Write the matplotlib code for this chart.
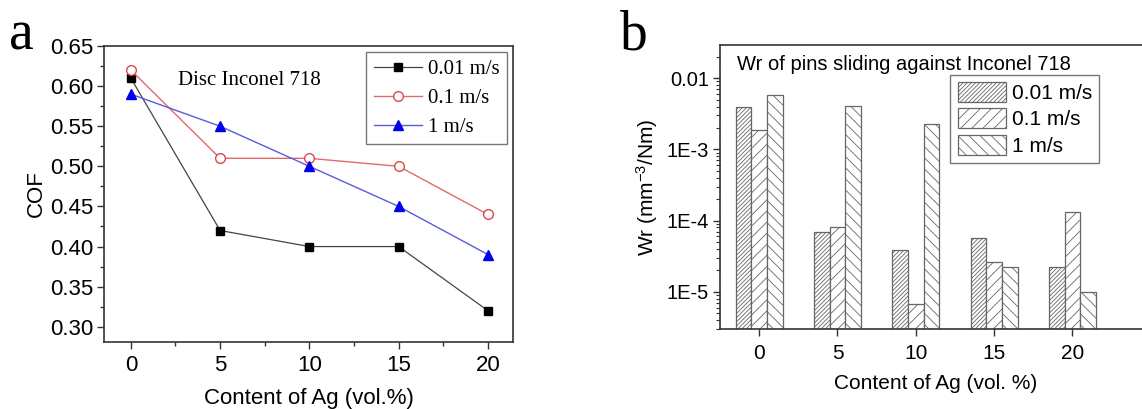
import matplotlib
matplotlib.use("Agg")
import matplotlib.pyplot as plt
import numpy as np
from matplotlib.ticker import MultipleLocator, FixedLocator, LogLocator, NullFormatter

plt.rcParams['font.family'] = ['Liberation Sans', 'DejaVu Sans']
plt.rcParams['mathtext.fontset'] = 'custom'
plt.rcParams['mathtext.rm'] = 'Liberation Sans'
plt.rcParams['mathtext.it'] = 'Liberation Sans'
plt.rcParams['hatch.color'] = '#555555'
plt.rcParams['hatch.linewidth'] = 0.6

# ---- data ----
ag = [0, 5, 10, 15, 20]
speeds = ["0.01 m/s", "0.1 m/s", "1 m/s"]

cof_001 = [0.61, 0.42, 0.40, 0.40, 0.32]
cof_01 = [0.62, 0.51, 0.51, 0.50, 0.44]
cof_1 = [0.59, 0.55, 0.50, 0.45, 0.39]

wr_001 = [3.9e-3, 6.9e-5, 3.9e-5, 5.7e-5, 2.2e-5]
wr_01 = [1.87e-3, 8.0e-5, 6.8e-6, 2.6e-5, 1.3e-4]
wr_1 = [5.8e-3, 4.1e-3, 2.3e-3, 2.25e-5, 1.0e-5]

fig = plt.figure(figsize=(11.42, 4.09), dpi=100)

# ---- panel a ----
ax = fig.add_axes([0.0911, 0.1638, 0.3581, 0.7237])
ax.plot(ag, cof_001, '-', color='#444444', lw=0.9, marker='s', ms=6,
        mfc='black', mec='black', label=speeds[0])
ax.plot(ag, cof_01, '-', color='#e06a6a', lw=1.0, marker='o', ms=7,
        mfc='white', mec='#d94a4a', label=speeds[1])
ax.plot(ag, cof_1, '-', color='#5a5ae0', lw=1.0, marker='^', ms=7,
        mfc='#0000ee', mec='#0000ee', label=speeds[2])
ax.set_xlim(-1.5, 21.4)
ax.set_ylim(0.281, 0.65)
ax.xaxis.set_major_locator(FixedLocator(ag))
ax.xaxis.set_minor_locator(MultipleLocator(2.5))
ax.yaxis.set_major_locator(MultipleLocator(0.05))
ax.yaxis.set_minor_locator(MultipleLocator(0.025))
ax.set_yticklabels([f"{v:.2f}" for v in ax.get_yticks()])
ax.tick_params(which='major', direction='out', length=5, width=1, labelsize=16, color='#333333')
ax.tick_params(which='minor', direction='out', length=3, width=1, color='#333333')
ax.tick_params(axis='x', pad=4)
ax.tick_params(axis='y', pad=3)
for s in ax.spines.values():
    s.set_color('#333333')
    s.set_linewidth(1.2)
ax.set_xlabel("Content of Ag (vol.%)", fontsize=16, labelpad=9)
ax.set_ylabel("COF", fontsize=16, labelpad=2)
ax.text(0.18, 0.885, "Disc Inconel 718", transform=ax.transAxes,
        family=['Liberation Serif'], fontsize=15, ha='left', va='center')
leg = ax.legend(loc='upper right', prop={'family': 'Liberation Serif', 'size': 15},
                frameon=True, fancybox=False, edgecolor='#555555',
                handlelength=2.3, handletextpad=0.3, borderpad=0.35,
                labelspacing=0.45, borderaxespad=0.3)
leg.get_frame().set_linewidth(1.0)
fig.text(0.008, 0.88, "a", family=['Liberation Serif'], fontsize=40)

# ---- panel b ----
bx = fig.add_axes([0.6305, 0.1956, 0.3771, 0.6944])
x = np.array(ag, dtype=float)
w = 1.0
hatches = ['////////', '///', '\\\\\\']
for off, vals, h, lab in zip([-w, 0, w], [wr_001, wr_01, wr_1], hatches, speeds):
    bx.bar(x + off, vals, width=w, bottom=0, color='white', edgecolor='#666666',
           linewidth=0.9, hatch=h, label=lab, log=True)
bx.set_yscale('log')
bx.set_ylim(3.0e-6, 0.0293)
bx.set_xlim(-2.5, 25)
bx.xaxis.set_major_locator(FixedLocator(ag))
bx.yaxis.set_major_locator(FixedLocator([1e-5, 1e-4, 1e-3, 1e-2]))
bx.set_yticklabels(["1E-5", "1E-4", "1E-3", "0.01"])
bx.yaxis.set_minor_locator(LogLocator(base=10, subs=np.arange(2, 10)))
bx.yaxis.set_minor_formatter(NullFormatter())
bx.tick_params(which='major', direction='out', length=5, width=1, labelsize=15, color='#333333')
bx.tick_params(which='minor', direction='out', length=3, width=0.8, color='#333333')
bx.tick_params(axis='x', pad=6)
bx.tick_params(axis='y', pad=3, labelsize=14.5)
for s in bx.spines.values():
    s.set_color('#333333')
    s.set_linewidth(1.2)
bx.set_xlabel("Content of Ag (vol. %)", fontsize=15, labelpad=8)
bx.set_ylabel(r"Wr (mm$^{-3}$/Nm)", fontsize=15, labelpad=5)
bx.text(0.04, 0.93, "Wr of pins sliding against Inconel 718", transform=bx.transAxes,
        fontsize=14.5, ha='left', va='center')
leg2 = bx.legend(loc='upper left', bbox_to_anchor=(0.535, 0.895), fontsize=15,
                 frameon=True, fancybox=False, edgecolor='#555555',
                 handlelength=2.3, handleheight=1.1, handletextpad=0.3, borderpad=0.35,
                 labelspacing=0.25, borderaxespad=0.0)
leg2.get_frame().set_linewidth(1.0)
fig.text(0.543, 0.88, "b", family=['Liberation Serif'], fontsize=40)

fig.savefig("out.png", dpi=100)
